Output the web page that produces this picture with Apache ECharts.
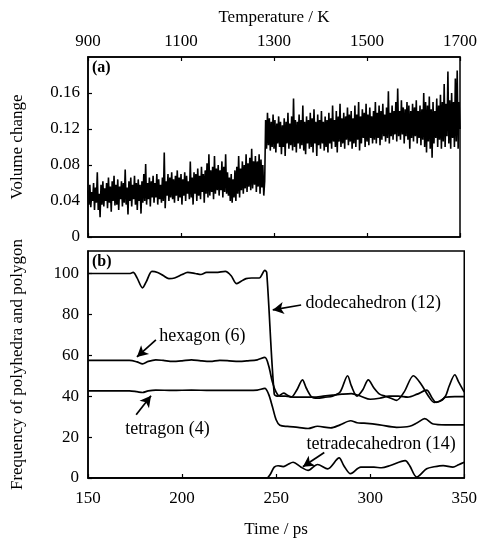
<!DOCTYPE html>
<html><head><meta charset="utf-8">
<script src="https://cdn.jsdelivr.net/npm/echarts@6/dist/echarts.min.js"></script>
<style>html,body{margin:0;padding:0;background:#fff}#c{width:480px;height:539px}</style>
</head><body><div id="c"></div>
<script>
const FONT = '"Liberation Serif","Times New Roman",serif';

// Panel (a): volume change, sampled every 0.5 ps from 150 ps
const volumeStart = 150, volumeStep = 0.5;
const volumeChange = [
0.052,0.036,0.058,0.033,0.050,0.040,0.060,0.030,0.055,0.038,
0.072,0.030,0.048,0.022,0.058,0.036,0.062,0.034,0.054,0.040,
0.060,0.032,0.066,0.038,0.056,0.028,0.062,0.040,0.068,0.035,
0.058,0.036,0.064,0.030,0.056,0.042,0.062,0.034,0.060,0.038,
0.075,0.036,0.055,0.025,0.062,0.040,0.066,0.034,0.058,0.042,
0.068,0.036,0.060,0.030,0.064,0.040,0.058,0.026,0.062,0.038,
0.070,0.040,0.081,0.036,0.060,0.042,0.066,0.034,0.062,0.044,
0.068,0.038,0.060,0.044,0.070,0.036,0.064,0.042,0.058,0.038,
0.066,0.040,0.094,0.032,0.062,0.046,0.070,0.040,0.066,0.044,
0.072,0.042,0.064,0.038,0.068,0.046,0.074,0.040,0.066,0.044,
0.070,0.036,0.064,0.046,0.072,0.040,0.068,0.048,0.062,0.042,
0.084,0.044,0.066,0.036,0.072,0.048,0.070,0.040,0.076,0.046,
0.068,0.042,0.078,0.050,0.070,0.038,0.074,0.048,0.082,0.044,
0.092,0.046,0.074,0.050,0.078,0.042,0.090,0.048,0.076,0.052,
0.080,0.046,0.074,0.052,0.084,0.044,0.078,0.050,0.092,0.048,
0.072,0.046,0.066,0.040,0.070,0.038,0.064,0.044,0.074,0.040,
0.078,0.048,0.090,0.044,0.076,0.052,0.084,0.048,0.080,0.054,
0.092,0.050,0.082,0.056,0.088,0.052,0.098,0.054,0.084,0.058,
0.090,0.050,0.084,0.056,0.092,0.048,0.086,0.055,0.080,0.046,
0.062,0.130,0.098,0.138,0.102,0.132,0.096,0.128,0.100,0.136,
0.098,0.130,0.094,0.126,0.104,0.134,0.100,0.128,0.092,0.124,
0.100,0.132,0.090,0.128,0.104,0.138,0.098,0.126,0.102,0.134,
0.096,0.154,0.100,0.130,0.094,0.128,0.104,0.136,0.098,0.130,
0.102,0.146,0.096,0.128,0.092,0.134,0.104,0.130,0.098,0.138,
0.100,0.132,0.094,0.142,0.104,0.128,0.090,0.136,0.102,0.130,
0.098,0.140,0.104,0.128,0.096,0.134,0.100,0.130,0.094,0.138,
0.104,0.132,0.098,0.146,0.106,0.130,0.100,0.140,0.094,0.134,
0.106,0.148,0.100,0.132,0.104,0.138,0.098,0.134,0.108,0.144,
0.102,0.136,0.106,0.140,0.098,0.132,0.104,0.146,0.100,0.136,
0.108,0.150,0.096,0.134,0.104,0.142,0.110,0.138,0.100,0.148,
0.106,0.136,0.102,0.144,0.110,0.134,0.104,0.140,0.108,0.150,
0.104,0.138,0.110,0.146,0.102,0.140,0.108,0.148,0.112,0.136,
0.106,0.144,0.110,0.162,0.104,0.138,0.112,0.146,0.108,0.140,
0.114,0.150,0.106,0.165,0.112,0.140,0.108,0.152,0.114,0.144,
0.104,0.142,0.112,0.150,0.108,0.146,0.098,0.140,0.110,0.148,
0.106,0.144,0.112,0.152,0.104,0.140,0.110,0.146,0.102,0.142,
0.108,0.160,0.100,0.150,0.094,0.146,0.106,0.156,0.098,0.142,
0.088,0.150,0.104,0.140,0.110,0.154,0.100,0.146,0.108,0.158,
0.098,0.150,0.106,0.170,0.100,0.148,0.112,0.184,0.104,0.152,
0.098,0.160,0.110,0.150,0.100,0.176,0.106,0.185,0.098,0.150,
0.120
];

// Panel (b): frequencies [time ps, count]
const dodecahedron = [[150,100],[172,100],[174,100.5],[176,98],[179,93],[181,96],[184,101],[187,100.5],[190,99],[193,97.5],[196,97.8],[200,99.5],[203,100.5],[207,100],[210,99.5],[213,100.5],[218,100.5],[223,101],[226,99],[229,95],[231,96],[234,97.5],[237,97.8],[241,97.8],[244,101.5],[245,100.5],[249,41],[251,40],[254,41.5],[256,40.5],[258,39.5],[261,43],[264,48],[266,44],[269,39.5],[272,39],[276,39.5],[280,40],[284,42],[288,50],[290,45],[293,40],[296,43],[299,48],[302,44],[305,41],[308,40],[311,39],[314,38],[318,42],[323,50],[327,46],[331,40],[334,37],[337,37.5],[340,40],[342,45],[345,50.5],[347,47],[350,42]];
const hexagon = [[150,57.5],[172,57.5],[176,56.8],[179,55.8],[182,57],[186,57.8],[190,57.5],[195,57],[200,57.3],[205,57.8],[210,57.3],[215,57],[220,57.5],[225,57.3],[230,57],[235,57.3],[240,57.8],[244,59],[246,55],[248,47],[250,42],[252,40],[255,40],[260,39.5],[265,39.5],[270,39.5],[275,40],[280,40.5],[285,41],[290,41.3],[295,40],[300,38.5],[305,39],[310,40],[315,40],[320,39.5],[325,41],[330,43],[333,39],[335,37],[338,38],[340,39.5],[345,39.8],[350,39.8]];
const tetragon = [[150,42.6],[172,42.6],[176,42.2],[179,41.8],[182,42.6],[186,43],[195,42.8],[205,43],[215,42.8],[225,42.8],[235,42.8],[240,43],[244,43.8],[246,41],[248,35],[250,28.5],[252,25.8],[256,25.2],[261.6,24.8],[267,24.2],[272,25.3],[279,24.5],[284,26],[289.6,28],[293,27],[296.7,26.8],[305,26],[314,24.8],[321,25.3],[325,27],[329,29],[333.5,26.4],[340,26],[350,26]];
const tetradecahedron = [[150,0],[245,0],[247,2],[249,5.3],[251,6],[253.7,5.6],[256,6.5],[259,7.7],[263.3,5.3],[267,3.7],[272,6.6],[277.4,4.5],[283.5,9.8],[286,6],[289.6,2.1],[295,5.3],[302,5.3],[306,5],[310.7,6.1],[318.6,8.5],[321,6],[324.7,0.5],[330,4.5],[334,5.5],[338.8,6.1],[344,5.3],[347,6.5],[350,7.7]];

// Annotations (data coordinates of panel b)
const labelTexts = ['dodecahedron (12)','hexagon (6)','tetragon (4)','tetradecahedron (14)'];
const labelAt = [[301.6,85.4],[210.8,69.4],[192.3,23.7],[305.8,16.5]];
const arrowFrom = [[263.3,84.6],[186.1,67.5],[175.6,30.9],[275.6,12.5]];
const arrowTo = [[248.2,82.2],[176,59.2],[183.5,40.2],[264.2,5.5]];

const volumeData = volumeChange.map((v,i)=>[volumeStart + i*volumeStep, v]);

const txt = {color:'#000', fontFamily:FONT, fontSize:17};
const chart = echarts.init(document.getElementById('c'), null, {renderer:'canvas'});
const grids = [
  {left:88, right:13, top:57, height:180, show:true, borderColor:'#000', borderWidth:1.5, backgroundColor:'transparent'},
  {left:88, right:13, top:251, height:230, show:true, borderColor:'#000', borderWidth:1.5, backgroundColor:'transparent'}
];
const tick = {show:true, inside:true, length:4, lineStyle:{color:'#000', width:1.2}};
const line = {show:true, lineStyle:{color:'#000', width:1.5}};
chart.setOption({
  animation:false,
  backgroundColor:'#fff',
  grid: grids,
  xAxis:[
    {gridIndex:0, type:'value', position:'bottom', min:150, max:350, interval:50, axisLabel:{show:false}, axisTick:tick, axisLine:line, splitLine:{show:false}},
    {gridIndex:0, type:'value', position:'top', min:900, max:1700, interval:200, axisLabel:Object.assign({margin:7, formatter:v=>String(v)}, txt), axisTick:tick, axisLine:line, splitLine:{show:false},
      name:'Temperature / K', nameLocation:'middle', nameGap:31, nameTextStyle:Object.assign({}, txt)},
    {gridIndex:1, type:'value', position:'bottom', min:150, max:350, interval:50, axisLabel:Object.assign({margin:12, formatter:v=>String(v)}, txt), axisTick:tick, axisLine:line, splitLine:{show:false},
      name:'Time / ps', nameLocation:'middle', nameGap:43, nameTextStyle:Object.assign({}, txt)}
  ],
  yAxis:[
    {gridIndex:0, type:'value', min:0, max:0.2, interval:0.04, axisLabel:Object.assign({margin:8, showMaxLabel:false, formatter:v=> v===0?'0':v.toFixed(2)}, txt), axisTick:tick, axisLine:line, splitLine:{show:false},
      name:'Volume change', nameLocation:'middle', nameGap:62, nameRotate:90, nameTextStyle:Object.assign({}, txt)},
    {gridIndex:1, type:'value', min:0, max:111, interval:20, axisLabel:Object.assign({margin:9, showMaxLabel:false}, txt), axisTick:tick, axisLine:line, splitLine:{show:false},
      name:'Frequency of polyhedra and polygon', nameLocation:'middle', nameGap:62, nameRotate:90, nameTextStyle:Object.assign({}, txt)}
  ],
  graphic:[
    {type:'text', left:92, top:60, style:{text:'(a)', fill:'#000', font:'bold 16px '+FONT}},
    {type:'text', left:92, top:254, style:{text:'(b)', fill:'#000', font:'bold 16px '+FONT}}
  ],
  series:[
    {type:'line', xAxisIndex:0, yAxisIndex:0, data:volumeData, showSymbol:false, lineStyle:{color:'#000', width:1.6}, clip:true},
    {type:'line', xAxisIndex:2, yAxisIndex:1, data:dodecahedron, showSymbol:false, smooth:0.3, lineStyle:{color:'#000', width:1.7}},
    {type:'line', xAxisIndex:2, yAxisIndex:1, data:hexagon, showSymbol:false, smooth:0.3, lineStyle:{color:'#000', width:1.7}},
    {type:'line', xAxisIndex:2, yAxisIndex:1, data:tetragon, showSymbol:false, smooth:0.3, lineStyle:{color:'#000', width:1.7}},
    {type:'line', xAxisIndex:2, yAxisIndex:1, data:tetradecahedron, showSymbol:false, smooth:0.3, lineStyle:{color:'#000', width:1.7},
      markLine:{silent:true, symbol:['none','arrow'], symbolSize:[9,11], label:{show:false}, lineStyle:{color:'#000', width:1.7, type:'solid'},
        data: arrowFrom.map((f,i)=>[{coord:f},{coord:arrowTo[i]}])},
      markPoint:{silent:true, symbol:'rect', symbolSize:1, itemStyle:{color:'rgba(0,0,0,0)'},
        label:{show:true, position:'inside', color:'#000', fontFamily:FONT, fontSize:18, formatter:p=>p.name},
        data: labelTexts.map((t,i)=>({name:t, coord:labelAt[i]}))}
    }
  ]
});
</script></body></html>
